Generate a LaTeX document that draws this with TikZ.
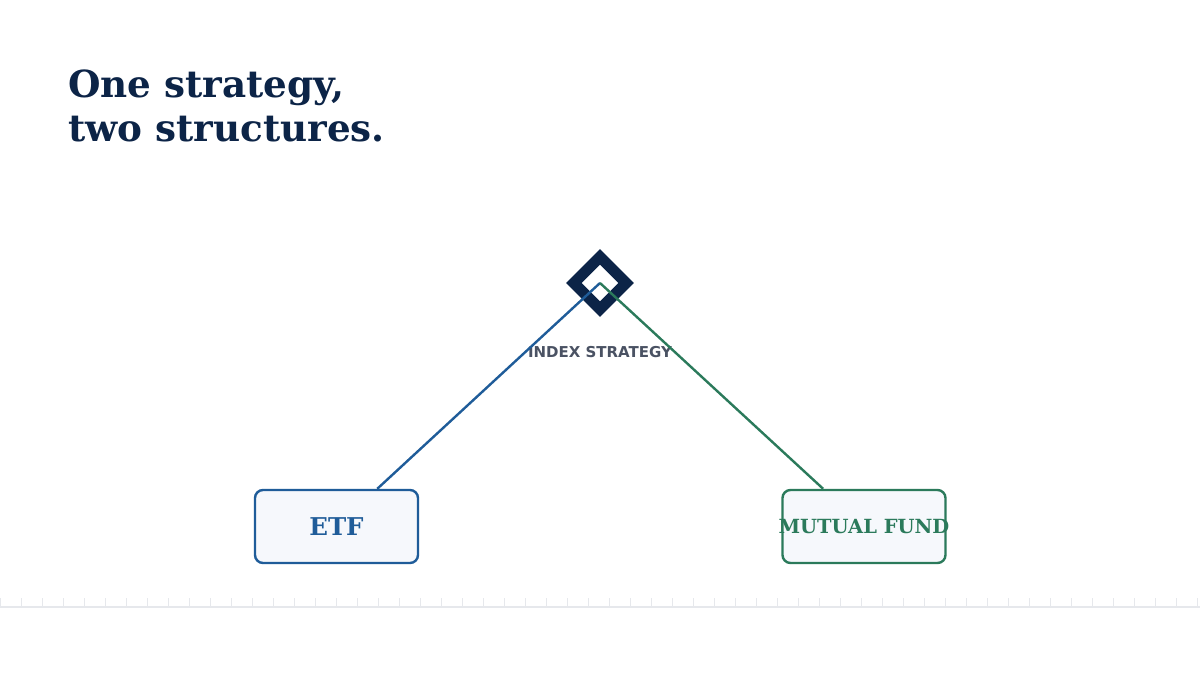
\documentclass[tikz,border=0pt]{standalone}
\usepackage{fontspec}
\setmainfont{DejaVu Serif}
\newfontfamily\labelfont{DejaVu Sans}
\usetikzlibrary{positioning}
\definecolor{navy}{HTML}{0C2447}
\definecolor{etfblue}{HTML}{1F5C99}
\definecolor{fundgreen}{HTML}{2B7A5B}
\definecolor{labelgray}{HTML}{4A5263}
\definecolor{boxfill}{HTML}{F6F8FC}
\definecolor{rulegray}{HTML}{E6E8EC}

\begin{document}
\begin{tikzpicture}[
		x=1pt,y=-1pt,
		every node/.append style={
			inner sep=0pt,
		},
		structure/.style={draw=#1,fill=boxfill,line width=2.4pt,rounded corners=8pt,
			minimum width=163pt,minimum height=73pt,text=#1,font=\bfseries},
		link/.style={draw=#1,line width=2.4pt},
	]
	\useasboundingbox[fill=white] (0,0) rectangle (1200,675);
	% title
	\node[anchor=base west,align=left,text=navy,font=\fontsize{37.3}{44}\selectfont\bfseries]
		(title) at (68,141) {One strategy,\\two structures.};
	% the strategy in the middle
	\node[draw=navy,line width=11pt,minimum size=37pt,rotate=45] (index) at (600,283) {};
	\node[text=labelgray,font=\labelfont\fontsize{15}{18}\selectfont\bfseries]
		(indexlabel) at (600,352) {INDEX STRATEGY};
	% the two structures
	\node[structure=etfblue] (etf) at (336.5,526.5) {\fontsize{24.5}{28}\selectfont ETF};
	\node[structure=fundgreen] (fund) at (864,526.5) {\makebox[0pt]{\fontsize{19.5}{24}\selectfont MUTUAL FUND}};
	% draw the connection lines
	\draw[link=etfblue] (index.center) -- (etf);
	\draw[link=fundgreen] (index.center) -- (fund);
	% ruler at the bottom
	\draw[rulegray,line width=1.2pt] (0,607) -- (1200,607);
	\foreach \x in {0,21,...,1197}
		\draw[rulegray,line width=0.9pt] (\x,598) -- (\x,607);
\end{tikzpicture}
\end{document}
